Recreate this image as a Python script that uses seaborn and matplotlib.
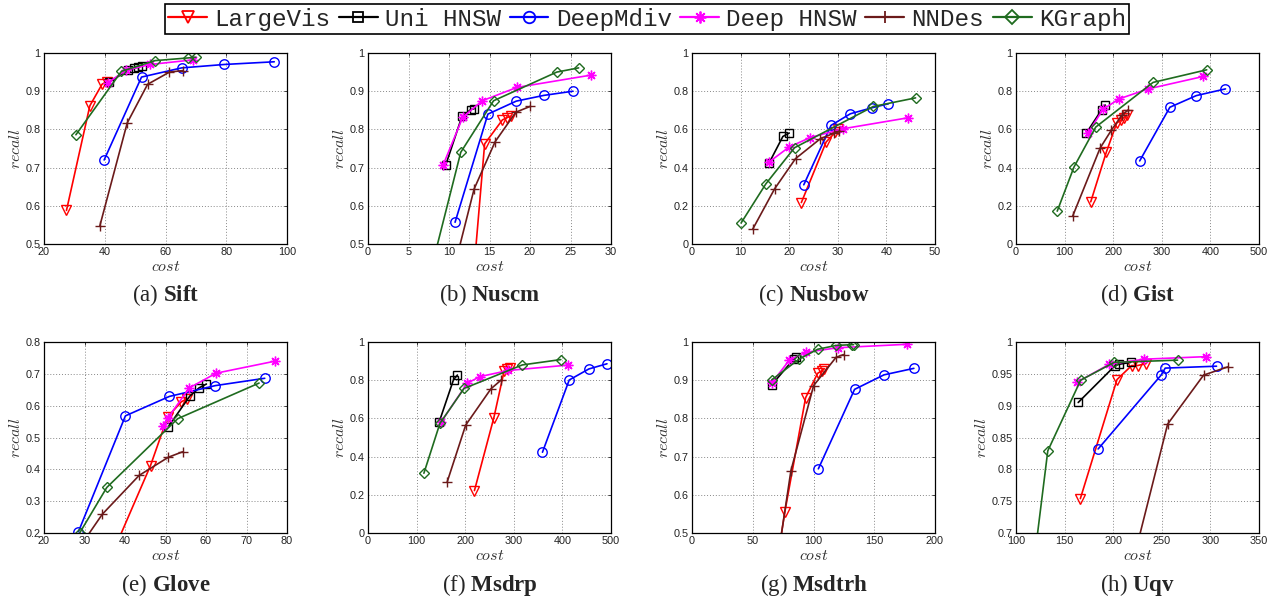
import numpy as np
import matplotlib
matplotlib.use("Agg")
import matplotlib.pyplot as plt
from matplotlib.lines import Line2D
from matplotlib.font_manager import FontProperties
import seaborn as sns

# ---------------- data (cost, recall) per dataset ----------------
SIFT = {
    "LargeVis":  ([27.4, 35.1, 39.1, 40.6], [0.588, 0.862, 0.918, 0.925]),
    "Uni HNSW":  ([41.5, 47.7, 49.5, 51.0, 52.1], [0.924, 0.955, 0.960, 0.963, 0.966]),
    "DeepMdiv":  ([39.8, 52.1, 65.3, 79.4, 95.8], [0.720, 0.937, 0.961, 0.970, 0.977]),
    "Deep HNSW": ([41.0, 47.0, 55.0, 69.0], [0.922, 0.955, 0.970, 0.982]),
    "NNDes":     ([38.4, 47.4, 54.1, 61.3, 65.7], [0.548, 0.817, 0.918, 0.950, 0.954]),
    "KGraph":    ([30.5, 45.5, 56.5, 67.3, 70.0], [0.786, 0.952, 0.980, 0.987, 0.989]),
}
NUSCM = {
    "LargeVis":  ([12.55, 14.4, 16.6, 17.1, 17.6], [0.30, 0.762, 0.825, 0.830, 0.835]),
    "Uni HNSW":  ([9.6, 11.6, 12.7, 13.1], [0.707, 0.834, 0.852, 0.854]),
    "DeepMdiv":  ([10.75, 14.8, 18.3, 21.7, 25.3], [0.557, 0.840, 0.874, 0.889, 0.900]),
    "Deep HNSW": ([9.3, 11.7, 14.1, 18.4, 27.5], [0.708, 0.832, 0.875, 0.910, 0.942]),
    "NNDes":     ([9.0, 13.1, 15.7, 18.25, 20.0], [0.30, 0.644, 0.768, 0.845, 0.860]),
    "KGraph":    ([6.2, 11.45, 15.5, 23.3, 26.0], [0.30, 0.740, 0.875, 0.950, 0.961]),
}
NUSBOW = {
    "LargeVis":  ([22.5, 27.6, 29.5, 30.0], [0.217, 0.534, 0.585, 0.600]),
    "Uni HNSW":  ([15.9, 18.7, 20.0], [0.426, 0.563, 0.581]),
    "DeepMdiv":  ([23.0, 28.6, 32.6, 37.0, 40.4], [0.310, 0.621, 0.682, 0.713, 0.734]),
    "Deep HNSW": ([15.9, 20.0, 24.3, 31.0, 44.5], [0.430, 0.508, 0.557, 0.603, 0.661]),
    "NNDes":     ([12.5, 17.0, 21.3, 26.4, 29.3, 30.3], [0.078, 0.289, 0.447, 0.551, 0.581, 0.590]),
    "KGraph":    ([10.1, 15.2, 21.1, 37.3, 46.0], [0.110, 0.315, 0.504, 0.720, 0.765]),
}
GIST = {
    "LargeVis":  ([153.8, 186, 207, 216, 222, 228], [0.221, 0.482, 0.632, 0.650, 0.662, 0.675]),
    "Uni HNSW":  ([145, 176, 183.4], [0.582, 0.702, 0.728]),
    "DeepMdiv":  ([254.5, 316.6, 371, 431], [0.435, 0.716, 0.777, 0.812]),
    "Deep HNSW": ([148, 179, 212.4, 272, 385], [0.580, 0.705, 0.760, 0.812, 0.877]),
    "NNDes":     ([116.6, 173, 196, 218, 231], [0.146, 0.502, 0.595, 0.675, 0.702]),
    "KGraph":    ([84.8, 119.3, 164, 282, 392.4], [0.172, 0.403, 0.612, 0.846, 0.912]),
}
GLOVE = {
    "LargeVis":  ([35.7, 46.3, 50.5, 53.9, 55.3], [0.10, 0.412, 0.564, 0.612, 0.622]),
    "Uni HNSW":  ([50.7, 56.0, 58.3, 60.1], [0.534, 0.630, 0.656, 0.668]),
    "DeepMdiv":  ([28.5, 40.1, 50.95, 62.3, 74.5], [0.204, 0.568, 0.629, 0.663, 0.686]),
    "Deep HNSW": ([49.3, 50.5, 55.9, 62.5, 77.1], [0.535, 0.560, 0.656, 0.702, 0.740]),
    "NNDes":     ([28.5, 34.4, 43.5, 50.7, 54.2], [0.15, 0.259, 0.381, 0.438, 0.455]),
    "KGraph":    ([28.8, 35.5, 53.0, 73.1], [0.200, 0.343, 0.559, 0.671]),
}
MSDRP = {
    "LargeVis":  ([219, 259, 280, 287, 293], [0.222, 0.604, 0.847, 0.860, 0.865]),
    "Uni HNSW":  ([146.7, 176, 184], [0.583, 0.803, 0.827]),
    "DeepMdiv":  ([359, 414, 454.5, 491.7], [0.423, 0.801, 0.859, 0.886]),
    "Deep HNSW": ([150, 204.5, 230.7, 289, 411], [0.580, 0.785, 0.819, 0.851, 0.879]),
    "NNDes":     ([163, 201, 253, 274], [0.268, 0.565, 0.755, 0.801]),
    "KGraph":    ([115, 148, 197.7, 317.5, 396.7], [0.313, 0.574, 0.757, 0.880, 0.908]),
}
MSDTRH = {
    "LargeVis":  ([68.8, 76.4, 93.5, 103.4, 107, 109], [0.40, 0.555, 0.854, 0.918, 0.925, 0.930]),
    "Uni HNSW":  ([65.7, 83.9, 85.2], [0.888, 0.956, 0.960]),
    "DeepMdiv":  ([104, 133.8, 158, 182.6], [0.668, 0.876, 0.914, 0.931]),
    "Deep HNSW": ([65.7, 80, 93.5, 120, 176.8], [0.893, 0.952, 0.973, 0.985, 0.994]),
    "NNDes":     ([69, 81.4, 100.1, 118.6, 124.7], [0.40, 0.663, 0.886, 0.960, 0.967]),
    "KGraph":    ([65.7, 88, 103.4, 118.6, 131.3, 133], [0.901, 0.955, 0.981, 0.991, 0.993, 0.993]),
}
UQV = {
    "LargeVis":  ([166.2, 203.9, 219, 225, 233.8], [0.754, 0.941, 0.963, 0.963, 0.966]),
    "Uni HNSW":  ([164, 202, 206, 218], [0.905, 0.963, 0.965, 0.968]),
    "DeepMdiv":  ([184.5, 249.3, 253.5, 306.3], [0.832, 0.948, 0.959, 0.962]),
    "Deep HNSW": ([163, 196, 232, 295.4], [0.937, 0.965, 0.973, 0.977]),
    "NNDes":     ([211.3, 256, 293, 318], [0.60, 0.871, 0.948, 0.961]),
    "KGraph":    ([114.1, 132.7, 166.5, 201, 266.2], [0.60, 0.829, 0.940, 0.968, 0.9715]),
}

METHODS = ["LargeVis", "Uni HNSW", "DeepMdiv", "Deep HNSW", "NNDes", "KGraph"]
LETTERS = ["a", "b", "c", "d", "e", "f", "g", "h"]
NAMES = ["Sift", "Nuscm", "Nusbow", "Gist", "Glove", "Msdrp", "Msdtrh", "Uqv"]
PANELS = [SIFT, NUSCM, NUSBOW, GIST, GLOVE, MSDRP, MSDTRH, UQV]
XTICKS = [[20, 40, 60, 80, 100], [0, 5, 10, 15, 20, 25, 30], [0, 10, 20, 30, 40, 50],
          [0, 100, 200, 300, 400, 500], [20, 30, 40, 50, 60, 70, 80],
          [0, 100, 200, 300, 400, 500], [0, 50, 100, 150, 200], [100, 150, 200, 250, 300, 350]]
YTICKS = [[0.5, 0.6, 0.7, 0.8, 0.9, 1], [0.5, 0.6, 0.7, 0.8, 0.9, 1], [0, 0.2, 0.4, 0.6, 0.8, 1],
          [0, 0.2, 0.4, 0.6, 0.8, 1], [0.2, 0.3, 0.4, 0.5, 0.6, 0.7, 0.8],
          [0, 0.2, 0.4, 0.6, 0.8, 1], [0.5, 0.6, 0.7, 0.8, 0.9, 1],
          [0.7, 0.75, 0.8, 0.85, 0.9, 0.95, 1]]

# ---------------- styles ----------------
STYLES = {
    "LargeVis":  dict(color="#FF0000", marker="v", ms=7.0),
    "Uni HNSW":  dict(color="#000000", marker="s", ms=5.5),
    "DeepMdiv":  dict(color="#0000FF", marker="o", ms=6.8),
    "Deep HNSW": dict(color="#FF00FF", marker=(8, 2, 0), ms=7.0),
    "NNDes":     dict(color="#6B1A1A", marker="+", ms=7.5),
    "KGraph":    dict(color="#1F6B1F", marker="D", ms=5.5),
}

sns.set_style("white")
plt.rcParams["font.family"] = ["Liberation Sans", "DejaVu Sans"]
plt.rcParams["mathtext.fontset"] = "custom"
plt.rcParams["mathtext.rm"] = "Liberation Serif"
plt.rcParams["mathtext.bf"] = "Liberation Serif:bold"
plt.rcParams["mathtext.it"] = "Liberation Serif:italic"

W, H = 1273, 599
fig = plt.figure(figsize=(W / 100, H / 100), dpi=100)

lefts = [44, 368, 692, 1016]
row_top = [53, 342]
ax_w, ax_h = 243, 191

for i, (panel, xt, yt) in enumerate(zip(PANELS, XTICKS, YTICKS)):
    r, c = divmod(i, 4)
    l = lefts[c]
    t = row_top[r]
    ax = fig.add_axes([l / W, 1 - (t + ax_h) / H, ax_w / W, ax_h / H])
    for m in METHODS:
        xs, ys = panel[m]
        st = STYLES[m]
        sns.lineplot(x=xs, y=ys, ax=ax, sort=False, estimator=None,
                     color=st["color"], marker=st["marker"], markersize=st["ms"],
                     mfc="none", mec=st["color"], mew=1.0, lw=1.2, legend=False)
    ax.set_xlim(xt[0], xt[-1])
    ax.set_ylim(yt[0], yt[-1])
    ax.set_xticks(xt)
    ax.set_yticks(yt)
    ax.set_xticklabels([f"{v:g}" for v in xt])
    ax.set_yticklabels([f"{v:g}" for v in yt])
    ax.grid(True, linestyle=(0, (1, 2)), color="#888888", lw=0.7)
    ax.tick_params(axis="both", labelsize=7.8, direction="in", length=2.5, width=0.6,
                   top=True, right=True, pad=2.5, colors="#222222")
    for s in ax.spines.values():
        s.set_color("black")
        s.set_linewidth(0.9)
    ax.set_xlabel(r"$cost$", math_fontfamily="cm", fontsize=11.5, labelpad=1.0, color="#333333")
    ax.set_ylabel(r"$recall$", math_fontfamily="cm", fontsize=11.5, labelpad=1.5, color="#333333")
    cx = (l + ax_w / 2) / W
    cy = 1 - (295 if r == 0 else 585) / H
    fig.text(cx, cy, f"({LETTERS[i]}) " + r"$\mathbf{" + NAMES[i] + r"}$",
             ha="center", va="center", fontsize=16.5, family="Liberation Serif")

handles = []
for m in METHODS:
    st = STYLES[m]
    handles.append(Line2D([0], [0], color=st["color"], marker=st["marker"], markersize=st["ms"] + 1.5,
                          mfc="none", mec=st["color"], mew=1.3, lw=1.6))
leg = fig.legend(handles, METHODS, loc="upper center", bbox_to_anchor=(647 / W, 1 - 4 / H),
                 ncol=6, prop=FontProperties(family="Liberation Mono", size=17.5),
                 frameon=True, fancybox=False, edgecolor="black", framealpha=1,
                 borderpad=0.15, handlelength=1.6, handletextpad=0.3, columnspacing=0.35,
                 borderaxespad=0)
leg.get_frame().set_linewidth(1.2)

fig.savefig("out.png", dpi=100)
